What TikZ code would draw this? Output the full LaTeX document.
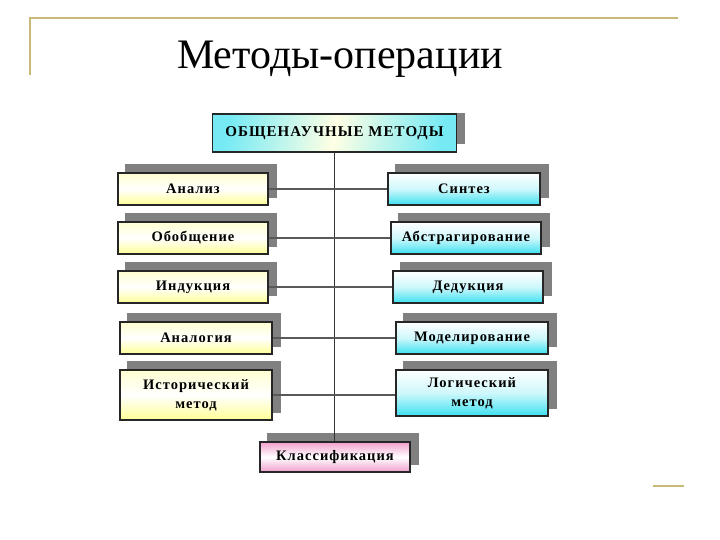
\documentclass[tikz,border=0pt]{standalone}
\usepackage{fontspec}
\setmainfont{Liberation Serif}
\newfontfamily\boxfont[LetterSpace=7]{Liberation Serif}
\usetikzlibrary{backgrounds}
\definecolor{gold}{RGB}{200,185,120}
\definecolor{shadowgray}{RGB}{128,128,128}
\definecolor{pinkc}{RGB}{240,160,205}
\definecolor{yel}{RGB}{255,255,150}
\definecolor{cya}{RGB}{60,225,240}
\tikzset{
  box/.style={draw=black!85, line width=1.2pt, inner sep=2pt, align=center,
    font=\boxfont\bfseries\fontsize{14.5}{19}\selectfont},
  ybox/.style={box, top color=yel!45, bottom color=yel, middle color=white},
  cbox/.style={box, top color=white, bottom color=cya, middle color=cya!25},
  pbox/.style={box, top color=pinkc, bottom color=pinkc, middle color=white},
  conn/.style={draw=black!65, line width=1.6pt},
  goldline/.style={draw=gold, line width=2pt}
}
\begin{document}
\begin{tikzpicture}[x=1pt,y=-1pt]
\useasboundingbox (0,0) rectangle (720,540);
% decorative lines
\draw[goldline] (30,75) -- (30,18) -- (678,18);
\draw[goldline] (653,486) -- (684,486);
% title
\node[anchor=base west, inner sep=0pt, font=\fontsize{42}{44}\selectfont] (title) at (177,69) {Методы-операции};
% header
\node[box, minimum width=244pt, minimum height=38pt, left color=cya!70, right color=cya!70, middle color=yel!25, shading angle=80,
  font=\boxfont\bfseries\fontsize{15}{17}\selectfont] (hdr) at (334.5,133) {ОБЩЕНАУЧНЫЕ МЕТОДЫ};
% left
\node[ybox, minimum width=150pt, minimum height=32pt] (an) at (193,189) {Анализ};
\node[ybox, minimum width=150pt, minimum height=32pt] (ob) at (193,238) {Обобщение};
\node[ybox, minimum width=150pt, minimum height=32pt] (ind) at (193,287) {Индукция};
\node[ybox, minimum width=152pt, minimum height=32pt] (alg) at (196,338) {Аналогия};
\node[ybox, minimum width=152pt, minimum height=50pt] (hist) at (196,395) {Исторический\\метод};
% right
\node[cbox, minimum width=152pt, minimum height=32pt] (sin) at (464,189) {Синтез};
\node[cbox, minimum width=150pt, minimum height=32pt] (abs) at (466,238) {Абстрагирование};
\node[cbox, minimum width=150pt, minimum height=32pt] (ded) at (468,287) {Дедукция};
\node[cbox, minimum width=152pt, minimum height=32pt] (mod) at (472,338) {Моделирование};
\node[cbox, minimum width=152pt, minimum height=46pt] (log) at (472,393) {Логический\\метод};
% bottom
\node[pbox, minimum width=150pt, minimum height=30pt] (cls) at (335,457) {Классификация};
% background and shadows
\begin{scope}[on background layer]
  \fill[white] (0,0) rectangle (720,540);
  \fill[shadowgray] (hdr.north east) rectangle ([shift={(8,-9)}]hdr.south east);
  \foreach \n in {an,ob,ind,alg,hist,sin,abs,ded,mod,log,cls}{
    \fill[shadowgray] ([shift={(8,-8)}]\n.south west) rectangle ([shift={(8,-8)}]\n.north east);
  }
\end{scope}
% connectors
\draw[draw=black!80, line width=0.8pt] (hdr.south) -- (hdr.south |- cls.north);
\draw[conn] (an.east) -- (an.east -| sin.west);
\draw[conn] (ob.east) -- (ob.east -| abs.west);
\draw[conn] (ind.east) -- (ind.east -| ded.west);
\draw[conn] (alg.east) -- (alg.east -| mod.west);
\draw[conn] (hist.east) -- (hist.east -| log.west);
\end{tikzpicture}
\end{document}
